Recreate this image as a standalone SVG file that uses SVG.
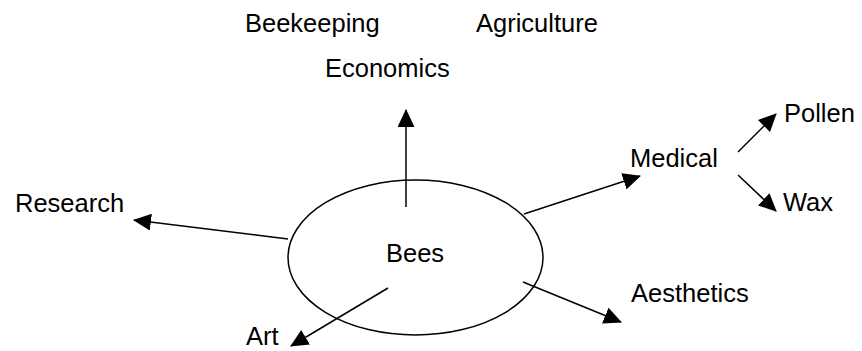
<svg xmlns="http://www.w3.org/2000/svg" width="862" height="351" viewBox="0 0 862 351">
<style>
text{font-family:"Liberation Sans",Arial,sans-serif;font-size:25.5px;fill:#000}
.c{stroke:#000;stroke-width:1.5;fill:none}
</style>
<defs>
<marker id="ah" viewBox="0 0 18 17" refX="17" refY="8.5" markerWidth="18" markerHeight="17" markerUnits="userSpaceOnUse" orient="auto">
<path d="M0,0 L18,8.5 L0,17 Z" fill="#000"/>
</marker>
</defs>
<rect width="862" height="351" fill="#fff"/>
<g id="connectors">
<line class="c" x1="406" y1="207" x2="406" y2="110" marker-end="url(#ah)"/>
<line class="c" x1="288" y1="239" x2="134" y2="220" marker-end="url(#ah)"/>
<line class="c" x1="524" y1="214" x2="640" y2="176" marker-end="url(#ah)"/>
<line class="c" x1="523" y1="282" x2="621" y2="322" marker-end="url(#ah)"/>
<line class="c" x1="388" y1="288" x2="291" y2="346" marker-end="url(#ah)"/>
<line class="c" x1="738" y1="152" x2="776" y2="114" marker-end="url(#ah)"/>
<line class="c" x1="738" y1="175" x2="776" y2="211" marker-end="url(#ah)"/>
</g>
<g id="bees"><ellipse cx="415.5" cy="257.5" rx="127.5" ry="77.5" class="c"/><text x="386" y="262">Bees</text></g>
<g id="beekeeping"><text x="245" y="32">Beekeeping</text></g>
<g id="agriculture"><text x="476" y="32">Agriculture</text></g>
<g id="economics"><text x="325" y="77">Economics</text></g>
<g id="research"><text x="15" y="212">Research</text></g>
<g id="medical"><text x="630" y="167">Medical</text></g>
<g id="pollen"><text x="784" y="122">Pollen</text></g>
<g id="wax"><text x="783" y="211">Wax</text></g>
<g id="aesthetics"><text x="631" y="302">Aesthetics</text></g>
<g id="art"><text x="246" y="345">Art</text></g>
</svg>
